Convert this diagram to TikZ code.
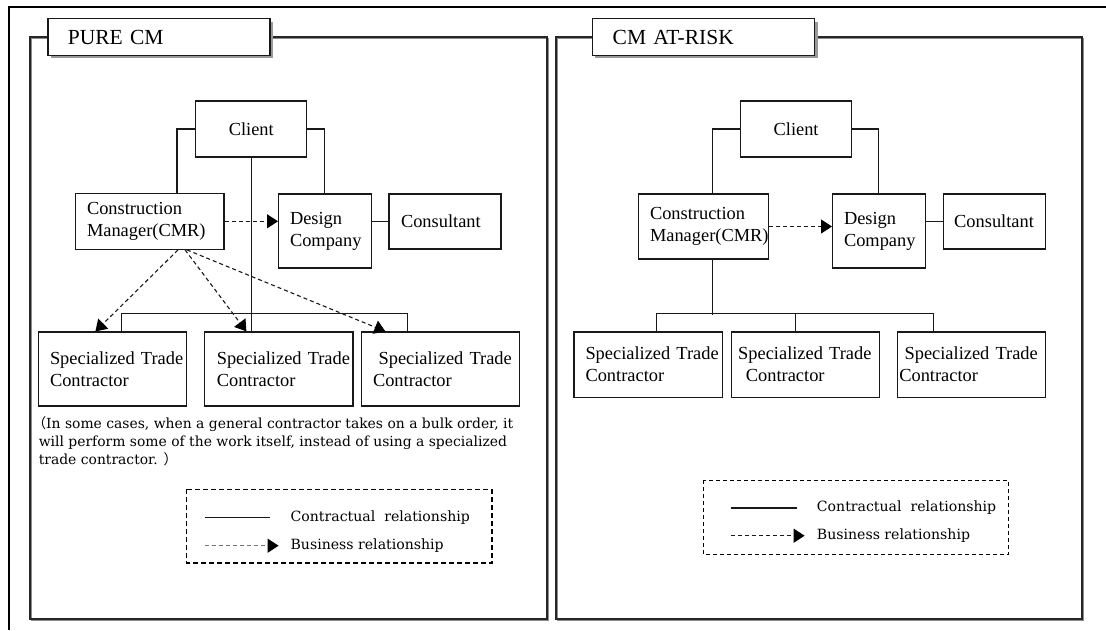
\documentclass[tikz,border=0pt]{standalone}
\usepackage{fontspec}
\setmainfont{Liberation Serif}
\newfontfamily\cjkfont{Noto Sans CJK JP}
\newfontfamily\notefont{DejaVu Serif}
\usetikzlibrary{arrows.meta,calc}
\newcommand\mkbox[8]{%
  \pgfmathsetmacro\bw{#5-#3}\pgfmathsetmacro\bh{#6-#4}\pgfmathsetmacro\tw{#5-#3-2*#7}%
  \node[box,#1,minimum width=\bw pt,minimum height=\bh pt,text width=\tw pt,inner xsep=#7pt]
    (#2) at ({(#3+#5)/2},{(#4+#6)/2}) {#8};}
\begin{document}
\begin{tikzpicture}[x=1pt,y=-1pt,
  box/.style={draw=black!90,line width=1.2pt,fill=white,inner ysep=0pt,align=left,
    font=\fontsize{18.4}{22}\selectfont},
  titlebox/.style={box,font=\fontsize{21.5}{24}\selectfont},
  shadowfill/.style={fill=black!40},
  conn/.style={draw=black!90,line width=1.2pt},
  biz/.style={draw=black!90,line width=1.1pt,dash pattern=on 4pt off 3pt,
    -{Triangle[length=11pt,width=14pt,color=black]}},
  frame/.style={draw=black!85,line width=1.4pt},
  legtext/.style={inner sep=0pt,anchor=west,font=\notefont\fontsize{14.1}{18}\selectfont},
  note/.style={inner sep=0pt,anchor=north west,align=left,font=\notefont\fontsize{13.9}{18}\selectfont}]
\useasboundingbox (0,0) rectangle (1106,630);
\fill[white] (0,0) rectangle (1106,630);
% outer frame
\draw[line width=2pt,black] (1106,7) -- (8.5,7) -- (8.5,630);
% panel frames
\draw[line width=1.4pt,black!45] (31.5,38.5) rectangle (548.5,620.5);
\draw[frame] (30,37) rectangle (547,619);
\draw[line width=1.4pt,black!45] (557.5,38.5) rectangle (1083.5,620.5);
\draw[frame] (556,37) rectangle (1082,619);
% titles
\fill[shadowfill] (50.9,21.7) rectangle (273,58.3);
\mkbox{titlebox}{t1}{47.9}{18.7}{270}{55.3}{20}{PURE CM}
\fill[shadowfill] (595.2,21.7) rectangle (817.5,58.3);
\mkbox{titlebox}{t2}{592.2}{18.7}{814.5}{55.3}{20.5}{CM AT-RISK}

% ---------- left panel ----------
\mkbox{align=center}{client}{195.7}{101}{306.8}{157}{0}{Client}
\mkbox{}{cmr}{75.7}{193.3}{224}{249.3}{11.3}{Construction\\Manager(CMR)}
\mkbox{}{design}{278.6}{194}{371.8}{268}{11.4}{Design\\Company}
\mkbox{}{cons}{389}{194}{501}{249}{12}{Consultant}
\mkbox{}{stc1}{38.6}{332}{186.8}{406}{11.4}{\mbox{Specialized Trade}\\Contractor}
\mkbox{}{stc2}{204.6}{332}{352.9}{406}{12.2}{\mbox{Specialized Trade}\\Contractor}
\mkbox{}{stc3}{361.8}{332}{519.3}{406}{11.2}{\mbox{\hspace*{5.6pt}Specialized Trade}\\Contractor}

\draw[conn] (client.west) -| ([xshift=101.8pt]cmr.north west);
\draw[conn] (client.east) -| ([xshift=46.4pt]design.north west);
\draw[conn] (client.south) -- (client.south |- stc2.north);
\draw[conn] ([xshift=83.4pt]stc1.north west) -- ++(0,-18) -| ([xshift=46.2pt]stc3.north west);
\draw[conn] (cons.west) -- (cons.west -| design.east);
\draw[biz] (cmr.east) -- (cmr.east -| design.west);
\draw[biz] ([xshift=102.9pt]cmr.south west) -- ([xshift=57.4pt]stc1.north west);
\draw[biz] ([xshift=110pt]cmr.south west) -- ([xshift=42.4pt]stc2.north west);
\draw[biz] ([xshift=111.8pt]cmr.south west) -- ([xshift=24.2pt]stc3.north west);

\node[note] (note) at (38.6,416) {\hspace*{-6.5pt}{\cjkfont （}In some cases, when a general contractor takes on a bulk order, it\\
will perform some of the work itself, instead of using a specialized\\
trade contractor. {\cjkfont ）}};

% legend left
\draw[line width=1.6pt,dash pattern=on 5pt off 3pt] (186.4,489.3) rectangle (491.8,562.7);
\coordinate (l1a) at (204.6,517.3); \coordinate (l1b) at (270,517.3);
\coordinate (l2a) at (204.6,545.7); \coordinate (l2b) at (278.6,545.7);
\draw[conn] (l1a) -- (l1b);
\draw[biz,draw=black!55] (l2a) -- (l2b);
\node[legtext] (lt1) at (290.4,517.3) {Contractual\ \ relationship};
\node[legtext] (lt2) at (290.4,545.7) {Business relationship};

% ---------- right panel ----------
\mkbox{align=center}{clientr}{740.4}{101}{851.8}{157}{0}{Client}
\mkbox{}{cmrr}{638.7}{194}{768.4}{259}{11.3}{Construction\\Manager(CMR)}
\mkbox{}{designr}{832.6}{194}{925.5}{268}{11.4}{Design\\Company}
\mkbox{}{consr}{943.3}{194}{1045.7}{249}{10.9}{Consultant}
\mkbox{}{stc1r}{574}{332}{722.7}{397.3}{11.5}{\mbox{Specialized Trade}\\Contractor}
\mkbox{}{stc2r}{731.2}{332}{879.4}{397.3}{7}{\mbox{Specialized Trade}\\\hspace*{7.7pt}Contractor}
\mkbox{}{stc3r}{897.2}{332}{1045.7}{397.3}{2.1}{\mbox{\hspace*{5.3pt}Specialized Trade}\\Contractor}

\draw[conn] (clientr.west) -| ([xshift=74.1pt]cmrr.north west);
\draw[conn] (clientr.east) -| ([xshift=46.8pt]designr.north west);
\draw[conn] ([xshift=74.1pt]cmrr.south west) -- ++(0,55);
\draw[conn] ([xshift=83.4pt]stc1r.north west) -- ++(0,-18) -| ([xshift=37.2pt]stc3r.north west);
\draw[conn] ([xshift=64.8pt]stc2r.north west) -- ++(0,-18);
\draw[conn] (consr.west) -- (consr.west -| designr.east);
\draw[biz] (cmrr.east) -- (cmrr.east -| designr.west);

% legend right
\draw[line width=1pt,dash pattern=on 4pt off 3pt] (703.2,480.3) rectangle (1008.5,554.3);
\coordinate (r1a) at (730.9,508); \coordinate (r1b) at (796.5,508);
\coordinate (r2a) at (730.9,535.7); \coordinate (r2b) at (804.6,535.7);
\draw[conn] (r1a) -- (r1b);
\draw[biz] (r2a) -- (r2b);
\node[legtext] (rt1) at (816.7,508) {Contractual\ \ relationship};
\node[legtext] (rt2) at (816.7,535.7) {Business relationship};
\end{tikzpicture}
\end{document}
